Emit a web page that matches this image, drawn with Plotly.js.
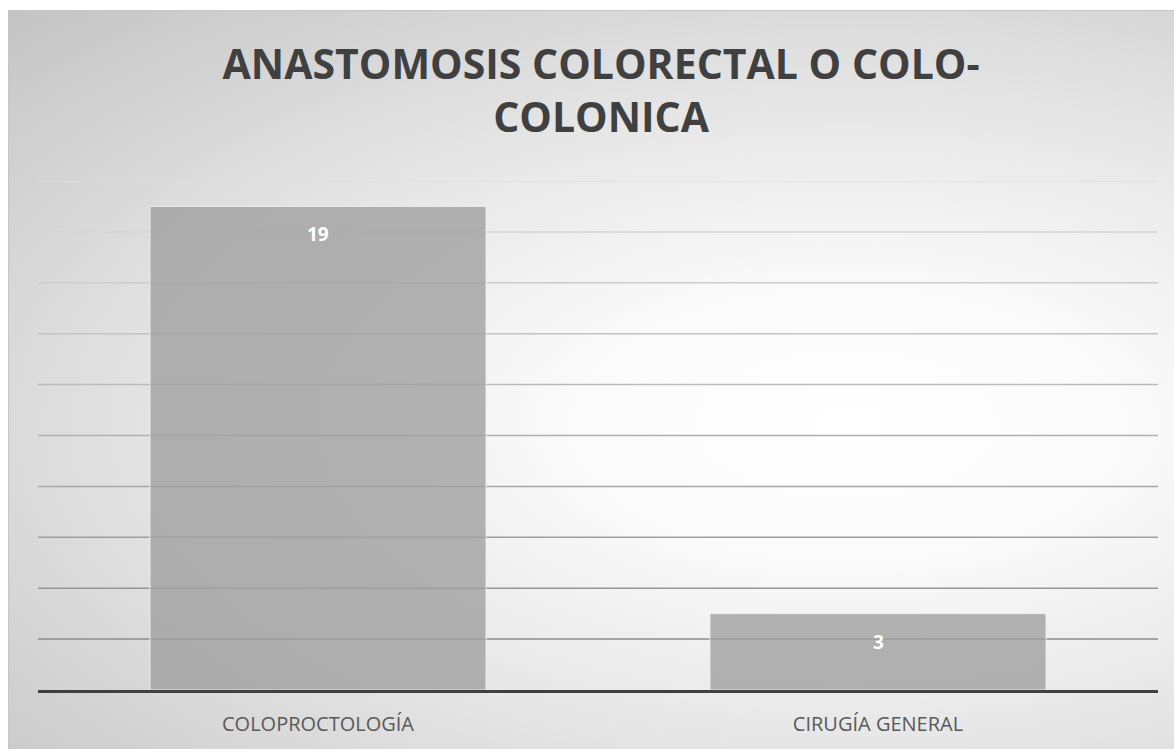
<!DOCTYPE html>
<html>
<head>
<meta charset="utf-8">
<script src="https://cdn.plot.ly/plotly-3.0.1.min.js"></script>
<style>
html,body{margin:0;padding:0;background:#fff;}
#bg{position:absolute;left:8px;top:10px;width:1166px;height:739px;
 border-top:1px solid #c6c6c6;border-left:1px solid #c6c6c6;box-sizing:border-box;
 background:radial-gradient(ellipse farthest-corner at 72% 56%, #ffffff 0%, #fbfbfb 22%, #e6e6e6 55%, #c4c4c4 100%);}
#chart{position:absolute;left:0;top:0;width:1174px;height:749px;}
</style>
</head>
<body>
<div id="bg"></div>
<div id="chart"></div>
<script>
const categories = ["COLOPROCTOLOGÍA", "CIRUGÍA GENERAL"];
const values = [19, 3];
const gridValues = [2, 4, 6, 8, 10, 12, 14, 16, 18, 20];

const shapes = gridValues.map((v, i) => {
  const t = i / (gridValues.length - 1);
  const c = Math.round(140 + t * (222 - 140));
  return {type: 'line', xref: 'paper', yref: 'y', x0: 0, x1: 1, y0: v, y1: v,
    line: {color: `rgb(${c},${c},${c})`, width: 1.5}, layer: 'below'};
});

const annotations = categories.map((c, i) => ({
  x: c, y: values[i], xref: 'x', yref: 'y', text: String(values[i]),
  showarrow: false, yshift: -28,
  font: {family: 'Open Sans, sans-serif', size: 19, color: '#ffffff', weight: 'bold'}
}));

const trace = {
  type: 'bar', x: categories, y: values,
  marker: {color: 'rgba(160,160,160,0.8)', line: {color: 'rgba(240,240,240,0.9)', width: 1}},
  hoverinfo: 'skip'
};

const layout = {
  width: 1174, height: 749,
  paper_bgcolor: 'rgba(0,0,0,0)', plot_bgcolor: 'rgba(0,0,0,0)',
  margin: {l: 38, r: 16, t: 181, b: 59},
  title: {text: 'ANASTOMOSIS COLORECTAL O COLO-<br>COLONICA', x: 0.512, xanchor: 'center',
    yref: 'container', y: 0.895, yanchor: 'middle',
    font: {family: 'Open Sans, sans-serif', size: 41, color: '#404040', weight: 'bold'}},
  bargap: 0.4,
  xaxis: {showgrid: false, showline: true, linecolor: '#404040', linewidth: 3,
    tickfont: {family: 'Open Sans, sans-serif', size: 20, color: '#595959'}, ticks: '', ticklen: 0,
    ticklabelstandoff: 14},
  yaxis: {range: [0, 20], dtick: 2, showgrid: false, zeroline: false, showticklabels: false, ticks: ''},
  shapes: shapes,
  annotations: annotations,
  showlegend: false
};

Plotly.newPlot('chart', [trace], layout, {displayModeBar: false, staticPlot: true});
</script>
</body>
</html>
